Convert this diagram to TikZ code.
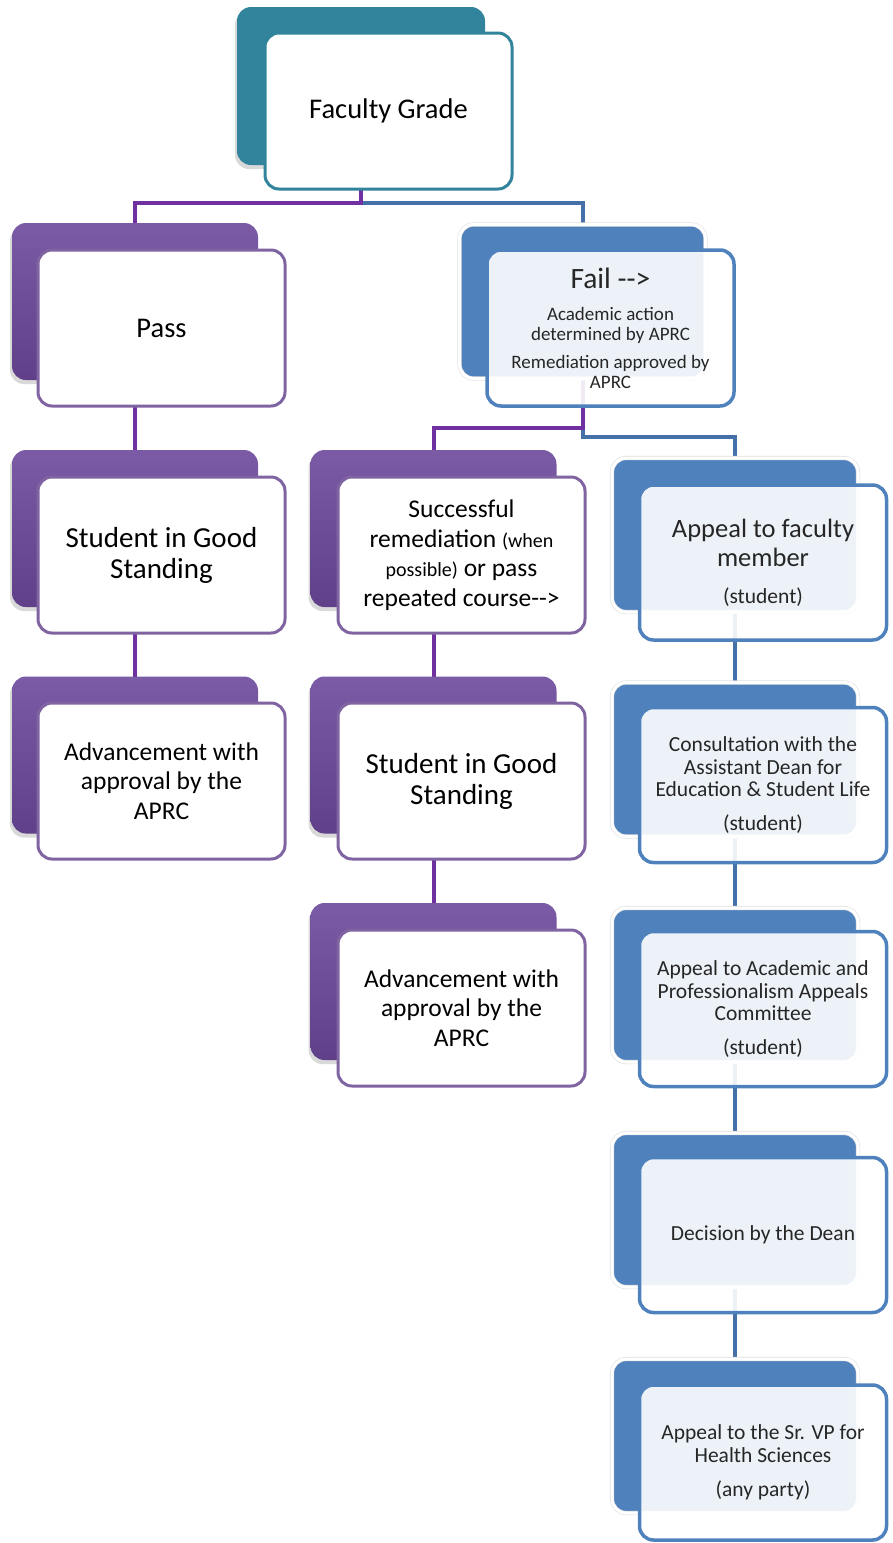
\documentclass[tikz,border=0pt]{standalone}
\usepackage{fontspec}
\setmainfont{Carlito}
\usetikzlibrary{shadows,backgrounds}
\definecolor{teal1}{HTML}{31849B}
\definecolor{purp}{HTML}{7B5AA6}
\definecolor{purpd}{HTML}{5F4089}
\definecolor{purpb}{HTML}{8064A2}
\definecolor{blu}{HTML}{4F81BD}
\definecolor{linep}{HTML}{7030A0}
\definecolor{lineb}{HTML}{4571A9}
\definecolor{txt}{HTML}{262626}
\tikzset{
  back/.style={rectangle, rounded corners=14pt, minimum width=246pt, minimum height=157pt, inner sep=0pt},
  pback/.style={back, top color=purp, bottom color=purpd, drop shadow={shadow xshift=-2pt, shadow yshift=-4pt, opacity=0.3}},
  tback/.style={back, fill=teal1, minimum width=248pt, minimum height=158pt, drop shadow={shadow xshift=-2pt, shadow yshift=-4pt, opacity=0.3}},
  bback/.style={back, fill=blu, minimum height=154pt, draw=black!12, double=white, double distance=3pt, line width=0.6pt},
  front/.style={rectangle, rounded corners=14pt, minimum width=247pt, minimum height=156pt, inner sep=0pt, align=center, line width=3pt},
  pfront/.style={front, fill=white, draw=purpb},
  tfront/.style={front, fill=white, draw=teal1},
  bfront/.style={front, fill=white, fill opacity=0.9, text opacity=1, draw=blu, line width=3.5pt, minimum height=155pt, text=txt},
  conp/.style={draw=linep, line width=4pt},
  conb/.style={draw=lineb, line width=4pt},
  big/.style={font=\fontsize{28.5}{32}\selectfont},
  mid/.style={font=\fontsize{25.5}{29.5}\selectfont},
  sml/.style={font=\fontsize{21.5}{22.5}\selectfont},
}
\begin{document}
\begin{tikzpicture}[x=1pt,y=-1pt]
\useasboundingbox (0,0) rectangle (893,1543);
% top
\node[tback] (fgB) at (361,86) {};
\node[tfront, big] (fg) at (388.5,111) {Faculty Grade};
% left column
\node[pback] (passB) at (135,301.5) {};
\node[pfront, big] (pass) at (161.5,328) {Pass};
\node[pback] (lsB) at (135,528.5) {};
\node[pfront, font=\fontsize{29}{31}\selectfont] (ls) at (161.5,555) {Student in Good\\Standing};
\node[pback] (laB) at (135,755) {};
\node[pfront, mid] (la) at (161.5,781) {Advancement with\\approval by the\\APRC};
% fail
\node[bback] (failB) at (582.5,301.5) {};
\node[bfront, font=\fontsize{19}{20}\selectfont, minimum height=156pt] (fail) at (610.5,328) {{\fontsize{29.5}{29.5}\selectfont Fail -{}-{}>}\\[12pt]Academic action\\determined by APRC\\[8pt]Remediation approved by\\APRC};
% middle column
\node[pback] (msB) at (433.5,528.5) {};
\node[pfront, mid] (ms) at (461.5,555) {Successful\\remediation {\fontsize{20}{20}\selectfont (when}\\{\fontsize{20}{20}\selectfont possible)} or pass\\repeated course-{}-{}>};
\node[pback] (mgB) at (433.5,755) {};
\node[pfront, font=\fontsize{29}{31}\selectfont] (mg) at (461.5,781) {Student in Good\\Standing};
\node[pback] (maB) at (433.5,981.5) {};
\node[pfront, mid] (ma) at (461.5,1008) {Advancement with\\approval by the\\APRC};
% right column
\node[bback] (r1B) at (735,535) {};
\node[bfront, font=\fontsize{26.5}{29}\selectfont] (r1) at (763,562.5) {Appeal to faculty\\member\\[8pt]{\fontsize{21.5}{21.5}\selectfont (student)}};
\node[bback] (r2B) at (735,759.5) {};
\node[bfront, sml] (r2) at (763,785) {Consultation with the\\Assistant Dean for\\Education \& Student Life\\[11pt](student)};
\node[bback] (r3B) at (735,985) {};
\node[bfront, sml] (r3) at (763,1009) {Appeal to Academic and\\Professionalism Appeals\\Committee\\[11pt](student)};
\node[bback] (r4B) at (735,1210) {};
\node[bfront, sml] (r4) at (763,1235) {Decision by the Dean};
\node[bback] (r5B) at (735,1436) {};
\node[bfront, sml] (r5) at (763,1462.5) {Appeal to the Sr. VP for\\Health Sciences\\[12pt](any party)};
% connectors
\coordinate (h1) at (0,203);
\coordinate (h2) at (0,428);
\coordinate (h3) at (0,437);
\begin{pgfonlayer}{background}
\draw[conb] (fgB.center) -- (fgB.center |- h1) -| (failB.center);
\draw[conp] (fgB.center) -- (fgB.center |- h1) -| (passB.center);
\draw[conp] (passB.center) -- (lsB.center);
\draw[conp] (lsB.center) -- (laB.center);
\draw[conb] (failB.center) -- (failB.center |- h3) -| (r1B.center);
\draw[conp] (failB.center) -- (failB.center |- h2) -| (msB.center);
\draw[conp] (msB.center) -- (mgB.center);
\draw[conp] (mgB.center) -- (maB.center);
\draw[conb] (r1B.center) -- (r2B.center);
\draw[conb] (r2B.center) -- (r3B.center);
\draw[conb] (r3B.center) -- (r4B.center);
\draw[conb] (r4B.center) -- (r5B.center);
\end{pgfonlayer}
\end{tikzpicture}
\end{document}
